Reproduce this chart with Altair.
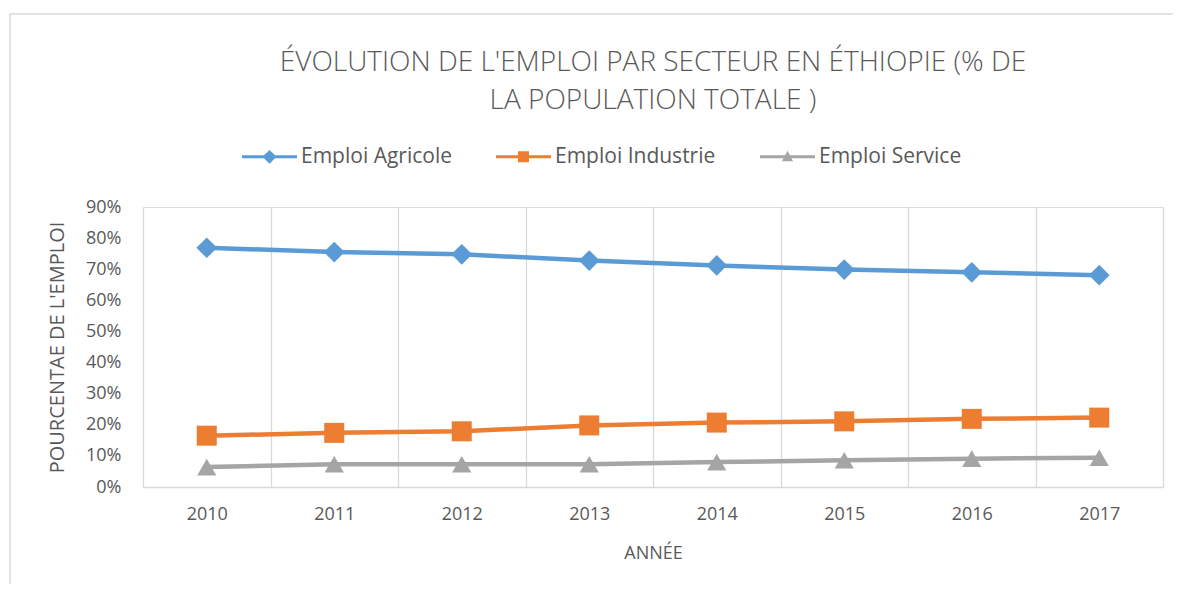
import altair as alt
import pandas as pd

years = ["2010", "2011", "2012", "2013", "2014", "2015", "2016", "2017"]
series = ["Emploi Agricole", "Emploi Industrie", "Emploi Service"]
agricole = [76.9, 75.5, 74.8, 72.8, 71.2, 69.9, 69.0, 68.1]
industrie = [16.5, 17.4, 17.9, 19.8, 20.7, 21.1, 21.9, 22.3]
service = [6.4, 7.3, 7.3, 7.3, 8.0, 8.6, 9.1, 9.4]
colors = ["#5B9BD5", "#ED7D31", "#A5A5A5"]
y_ticks = [0, 10, 20, 30, 40, 50, 60, 70, 80, 90]

rows = []
for name, vals in zip(series, [agricole, industrie, service]):
    for yr, v in zip(years, vals):
        rows.append({"Année": yr, "Série": name, "v": v})
df = pd.DataFrame(rows)

FONT = "Open Sans"
TXT = "#595959"
GRID = "#D9D9D9"

# legend symbols: line + marker
leg_diamond = "M-1,-0.055 L-0.2,-0.055 L0,-0.25 L0.2,-0.055 L1,-0.055 L1,0.055 L0.2,0.055 L0,0.25 L-0.2,0.055 L-1,0.055 Z"
leg_square = "M-1,-0.055 L-0.2,-0.055 L-0.2,-0.2 L0.2,-0.2 L0.2,-0.055 L1,-0.055 L1,0.055 L0.2,0.055 L0.2,0.2 L-0.2,0.2 L-0.2,0.055 L-1,0.055 Z"
leg_triangle = "M-1,-0.055 L-0.086,-0.055 L0,-0.22 L0.086,-0.055 L1,-0.055 L1,0.055 L0.148,0.055 L0.2,0.16 L-0.2,0.16 L-0.148,0.055 L-1,0.055 Z"

x_enc = alt.X(
    "Année:O",
    sort=years,
    bandPosition=0.5,
    scale=alt.Scale(type="band", domain=years, paddingInner=0, paddingOuter=0),
    axis=alt.Axis(
        title="ANNÉE",
        tickBand="extent",
        grid=True,
        gridColor=GRID,
        gridWidth=1.3,
        ticks=False,
        domainColor=GRID,
        domainWidth=1.5,
        labelAngle=0,
        labelFont=FONT,
        labelFontSize=18,
        labelColor=TXT,
        labelPadding=18,
        titleFont=FONT,
        titleFontSize=18,
        titleFontWeight="normal",
        titleColor=TXT,
        titlePadding=21,
    ),
)
y_enc = alt.Y(
    "v:Q",
    scale=alt.Scale(domain=[0, 90], nice=False),
    axis=alt.Axis(
        title="POURCENTAE DE L'EMPLOI",
        values=y_ticks,
        labelExpr="datum.value + '%'",
        grid=False,
        domain=False,
        ticks=False,
        labelFont=FONT,
        labelFontSize=18,
        labelColor=TXT,
        labelPadding=22,
        titleFont=FONT,
        titleFontSize=20,
        titleFontWeight="normal",
        titleColor=TXT,
        titlePadding=18,
    ),
)
color_scale = alt.Scale(domain=series, range=colors)

base = alt.Chart(df)

lines = base.mark_line(strokeWidth=4.5).encode(
    x=x_enc,
    y=y_enc,
    color=alt.Color("Série:N", scale=color_scale, legend=None),
    detail="Série:N",
)

points = base.mark_point(filled=True, opacity=1).encode(
    x=x_enc,
    y=y_enc,
    color=alt.Color("Série:N", scale=color_scale, legend=None),
    shape=alt.Shape("Série:N", scale=alt.Scale(domain=series, range=["diamond", "square", "triangle-up"]), legend=None),
    size=alt.Size("Série:N", scale=alt.Scale(domain=series, range=[430, 370, 420]), legend=None),
)

legend_layer = base.transform_filter("datum.v < 0").mark_point(filled=True, opacity=1).encode(
    x=x_enc,
    y=y_enc,
    color=alt.Color(
        "Série:N",
        scale=color_scale,
        legend=alt.Legend(
            title=None,
            orient="none",
            direction="horizontal",
            columns=3,
            legendX=99,
            legendY=-78,
            symbolSize=3025,
            symbolStrokeWidth=0,
            symbolOpacity=1,
            labelFont=FONT,
            labelFontSize=21,
            labelColor=TXT,
            labelOffset=4,
            labelLimit=400,
            columnPadding=44,
        ),
    ),
    shape=alt.Shape(
        "Série:N",
        scale=alt.Scale(domain=series, range=[leg_diamond, leg_square, leg_triangle]),
    ),
)

border = alt.Chart(alt.Data(values=[{"a": 1}])).mark_rect(
    fill=None, stroke=GRID, strokeWidth=1.5
).encode(
    x=alt.value(-133), x2=alt.value(1100), y=alt.value(-193), y2=alt.value(420)
)

chart = alt.layer(border, lines, points, legend_layer).resolve_scale(
    color="independent", shape="independent", size="independent"
).resolve_legend(color="independent", shape="independent", size="independent").properties(
    width=1020,
    height=280,
    padding={"left": 135, "top": 199, "right": 10, "bottom": 97},
    autosize=alt.AutoSizeParams(type="none"),
    title=alt.Title(
        text=["ÉVOLUTION DE L'EMPLOI PAR SECTEUR EN ÉTHIOPIE (% DE", "LA POPULATION TOTALE )"],
        font=FONT,
        fontSize=28,
        fontWeight=300,
        color=TXT,
        lineHeight=38,
        anchor="middle",
        frame="group",
        offset=0,
        dy=102,
    ),
).configure_view(stroke=None).configure(background="white")

chart.save("out.html", embed_options={"renderer": "svg", "actions": False})
